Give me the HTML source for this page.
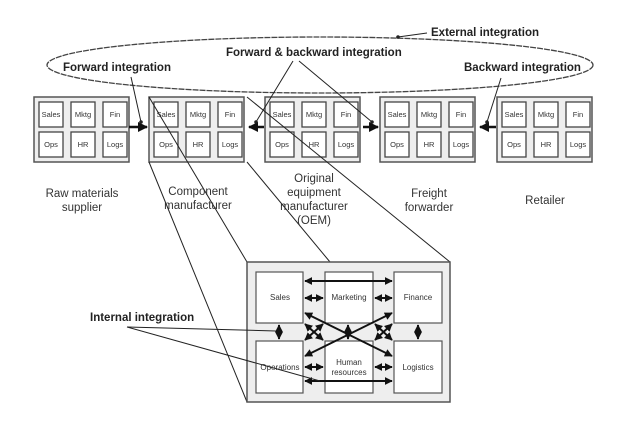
<!DOCTYPE html>
<html><head><style>
body{margin:0;background:#fff}
svg{display:block}
text{font-family:"Liberation Sans",sans-serif;fill:#333}
.b{font-weight:bold;font-size:11.5px;fill:#222}
.s{font-size:7.5px;fill:#444}
.l{font-size:11.5px;fill:#444}
</style></head><body>
<svg width="639" height="430" viewBox="0 0 639 430">
<defs>
<marker id="a" viewBox="0 0 10 10" refX="9" refY="5" markerWidth="4" markerHeight="4" orient="auto-start-reverse"><path d="M0,0L10,5L0,10z" fill="#111"/></marker>
<g id="c">
<rect x="0" y="0" width="95" height="65" fill="#eee" stroke="#555" stroke-width="1.5"/>
<g fill="#fff" stroke="#444" stroke-width="1.3">
<rect x="5" y="5" width="24" height="25"/><rect x="37" y="5" width="24" height="25"/><rect x="69" y="5" width="24" height="25"/>
<rect x="5" y="35" width="24" height="25"/><rect x="37" y="35" width="24" height="25"/><rect x="69" y="35" width="24" height="25"/>
</g>
<g class="s" text-anchor="middle">
<text x="17" y="20">Sales</text><text x="49" y="20">Mktg</text><text x="81" y="20">Fin</text>
<text x="17" y="50">Ops</text><text x="49" y="50">HR</text><text x="81" y="50">Logs</text>
</g>
</g>
</defs>
<ellipse cx="320" cy="65" rx="273" ry="28" fill="none" stroke="#444" stroke-width="1.3" stroke-dasharray="6,1"/>
<use href="#c" x="149" y="97"/>
<use href="#c" x="265" y="97"/>
<use href="#c" x="380" y="97"/>
<use href="#c" x="497" y="97"/>
<use href="#c" x="34" y="97"/>
<g stroke="#111" stroke-width="2.5" marker-end="url(#a)">
<line x1="129" y1="127" x2="147" y2="127"/>
<line x1="264" y1="127" x2="249" y2="127"/>
<line x1="363" y1="127" x2="378" y2="127"/>
<line x1="496" y1="127" x2="480" y2="127"/>
</g>
<g stroke="#222" stroke-width="1" fill="none">
<line x1="131" y1="77" x2="141" y2="122"/>
<line x1="293" y1="61" x2="256" y2="122"/>
<line x1="299" y1="61" x2="372" y2="122"/>
<line x1="501" y1="78" x2="487" y2="122"/>
<line x1="427" y1="33" x2="398" y2="37"/>
<line x1="149" y1="97" x2="247" y2="262"/>
<line x1="149" y1="162" x2="247" y2="402"/>
<line x1="247" y1="97" x2="450" y2="262"/>
<line x1="247" y1="162" x2="330" y2="262"/>
</g>
<g fill="#222"><circle cx="141" cy="122" r="1.8"/><circle cx="256" cy="122" r="1.8"/><circle cx="372" cy="122" r="1.8"/><circle cx="487" cy="122" r="1.8"/><circle cx="398" cy="37" r="1.8"/></g>
<text class="b" x="431" y="36">External integration</text>
<text class="b" x="226" y="56">Forward &amp; backward integration</text>
<text class="b" x="63" y="71">Forward integration</text>
<text class="b" x="464" y="71">Backward integration</text>
<g class="l" text-anchor="middle">
<text x="82" y="197">Raw materials</text><text x="82" y="211">supplier</text>
<text x="198" y="195">Component</text><text x="198" y="209">manufacturer</text>
<text x="314" y="182">Original</text><text x="314" y="196">equipment</text><text x="314" y="210">manufacturer</text><text x="314" y="224">(OEM)</text>
<text x="429" y="197">Freight</text><text x="429" y="211">forwarder</text>
<text x="545" y="204">Retailer</text>
</g>
<rect x="247" y="262" width="203" height="140" fill="#eee" stroke="#555" stroke-width="1.5"/>
<g fill="#fff" stroke="#555" stroke-width="1.2">
<rect x="256" y="272" width="47" height="51"/><rect x="325" y="272" width="48" height="51"/><rect x="394" y="272" width="48" height="51"/>
<rect x="256" y="341" width="47" height="52"/><rect x="325" y="341" width="48" height="52"/><rect x="394" y="341" width="48" height="52"/>
</g>
<g class="s" text-anchor="middle" style="font-size:8px">
<text x="280" y="300">Sales</text><text x="349" y="300">Marketing</text><text x="418" y="300">Finance</text>
<text x="280" y="370">Operations</text><text x="349" y="365">Human</text><text x="349" y="375">resources</text><text x="418" y="370">Logistics</text>
</g>
<g stroke="#111" stroke-width="2" marker-start="url(#a)" marker-end="url(#a)">
<line x1="305" y1="281" x2="392" y2="281"/>
<line x1="305" y1="298" x2="323" y2="298"/><line x1="375" y1="298" x2="392" y2="298"/>
<line x1="305" y1="367" x2="323" y2="367"/><line x1="375" y1="367" x2="392" y2="367"/>
<line x1="305" y1="381" x2="392" y2="381"/>
<line x1="279" y1="325" x2="279" y2="339"/><line x1="418" y1="325" x2="418" y2="339"/>
<line x1="348" y1="325" x2="348" y2="339"/>
<line x1="305" y1="313" x2="392" y2="356"/>
<line x1="305" y1="356" x2="392" y2="313"/>
<line x1="305" y1="324" x2="323" y2="340"/><line x1="323" y1="324" x2="305" y2="340"/>
<line x1="375" y1="324" x2="392" y2="340"/><line x1="392" y1="324" x2="375" y2="340"/>
</g>
<text class="b" x="90" y="321">Internal integration</text>
<g stroke="#222" stroke-width="1"><line x1="127" y1="327" x2="276" y2="331"/><line x1="127" y1="327" x2="320" y2="381"/></g>
</svg>
</body></html>
